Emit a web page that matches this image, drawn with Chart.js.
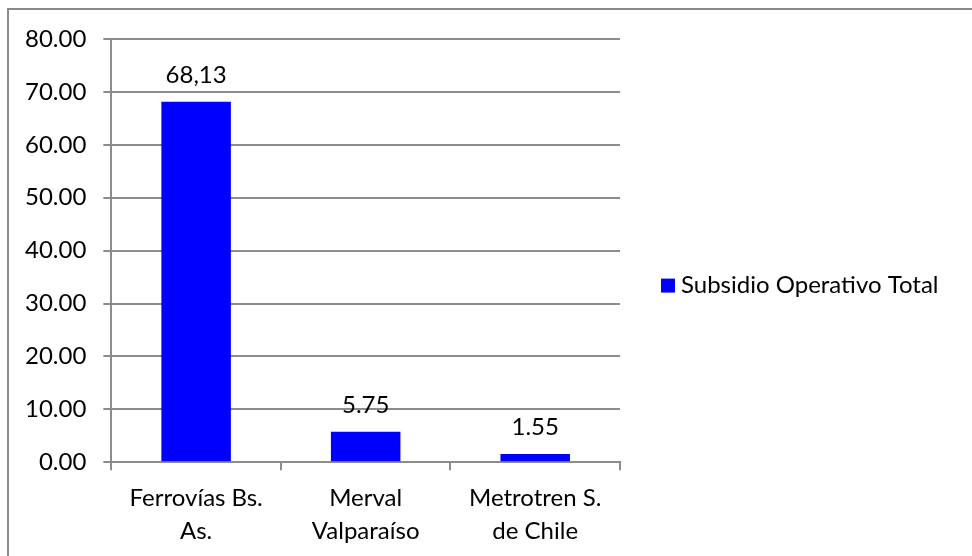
<!DOCTYPE html>
<html>
<head>
<meta charset="utf-8">
<script src="https://cdn.jsdelivr.net/npm/chart.js@4.4.1/dist/chart.umd.min.js"></script>
<style>
  html, body { margin: 0; padding: 0; background: #ffffff; }
  #wrap { width: 972px; height: 556px; position: relative; }
</style>
</head>
<body>
<div id="wrap"><canvas id="c" width="972" height="556"></canvas></div>
<script>
// Operating subsidy per railway operator
const categories = [["Ferrovías Bs.", "As."], ["Merval", "Valparaíso"], ["Metrotren S.", "de Chile"]];
const subsidy = [68.13, 5.75, 1.55];
const valueLabels = ["68,13", "5.75", "1.55"];
const seriesName = "Subsidio Operativo Total";
const yTicks = [0, 10, 20, 30, 40, 50, 60, 70, 80];

const FONT = "Lato, 'Open Sans', sans-serif";
const FONT_SIZE = 24;
const BLUE = "#0000ff";
const GRID = "#8c8c8c";

// Frame lines along the top and left of the chart
const framePlugin = {
  id: "frame",
  beforeDraw(chart) {
    const ctx = chart.ctx;
    ctx.save();
    ctx.strokeStyle = "#8a8a8a";
    ctx.lineWidth = 2;
    ctx.beginPath();
    ctx.moveTo(8, 556);
    ctx.lineTo(8, 9);
    ctx.lineTo(972, 9);
    ctx.stroke();
    ctx.restore();
  }
};

// Value labels above each bar
const valueLabelPlugin = {
  id: "valueLabels",
  afterDatasetsDraw(chart) {
    const ctx = chart.ctx;
    const meta = chart.getDatasetMeta(0);
    ctx.save();
    ctx.font = FONT_SIZE + "px " + FONT;
    ctx.fillStyle = "#000000";
    ctx.textAlign = "center";
    ctx.textBaseline = "middle";
    meta.data.forEach((bar, i) => {
      ctx.fillText(valueLabels[i], bar.x, bar.y - 27);
    });
    ctx.restore();
  }
};

// Legend entry to the right of the plot
const sideLegendPlugin = {
  id: "sideLegend",
  afterDraw(chart) {
    const ctx = chart.ctx;
    const ds = chart.data.datasets[0];
    const x = chart.chartArea.right + 41;
    const y = (chart.chartArea.top + chart.chartArea.bottom) / 2 + 35;
    ctx.save();
    ctx.fillStyle = ds.backgroundColor;
    ctx.fillRect(x, y - 7, 14, 14);
    ctx.font = FONT_SIZE + "px " + FONT;
    ctx.fillStyle = "#000000";
    ctx.textAlign = "left";
    ctx.textBaseline = "middle";
    ctx.fillText(ds.label, x + 20, y);
    ctx.restore();
  }
};

new Chart(document.getElementById("c"), {
  type: "bar",
  data: {
    labels: categories,
    datasets: [{
      label: seriesName,
      data: subsidy,
      backgroundColor: BLUE,
      borderWidth: 0,
      categoryPercentage: 1.0,
      barPercentage: 0.41
    }]
  },
  options: {
    responsive: false,
    animation: false,
    devicePixelRatio: 1,
    layout: { padding: { left: 8, right: 352, top: 39, bottom: -3 } },
    plugins: {
      legend: { display: false },
      tooltip: { enabled: false }
    },
    scales: {
      x: {
        grid: {
          display: true,
          offset: true,
          drawOnChartArea: false,
          drawTicks: true,
          tickLength: 8,
          color: GRID,
          lineWidth: 2
        },
        border: { display: true, color: GRID, width: 2 },
        ticks: {
          color: "#000000",
          font: { family: FONT, size: FONT_SIZE, lineHeight: 1.35 },
          padding: 12,
          maxRotation: 0
        }
      },
      y: {
        min: 0,
        max: 80,
        afterBuildTicks(axis) { axis.ticks = yTicks.map(v => ({ value: v })); },
        grid: {
          color: GRID,
          lineWidth: 2,
          drawTicks: true,
          tickLength: 8
        },
        border: { display: true, color: GRID, width: 2 },
        ticks: {
          color: "#000000",
          font: { family: FONT, size: FONT_SIZE },
          padding: 17,
          callback: v => v.toFixed(2)
        }
      }
    }
  },
  plugins: [framePlugin, valueLabelPlugin, sideLegendPlugin]
});
</script>
</body>
</html>
